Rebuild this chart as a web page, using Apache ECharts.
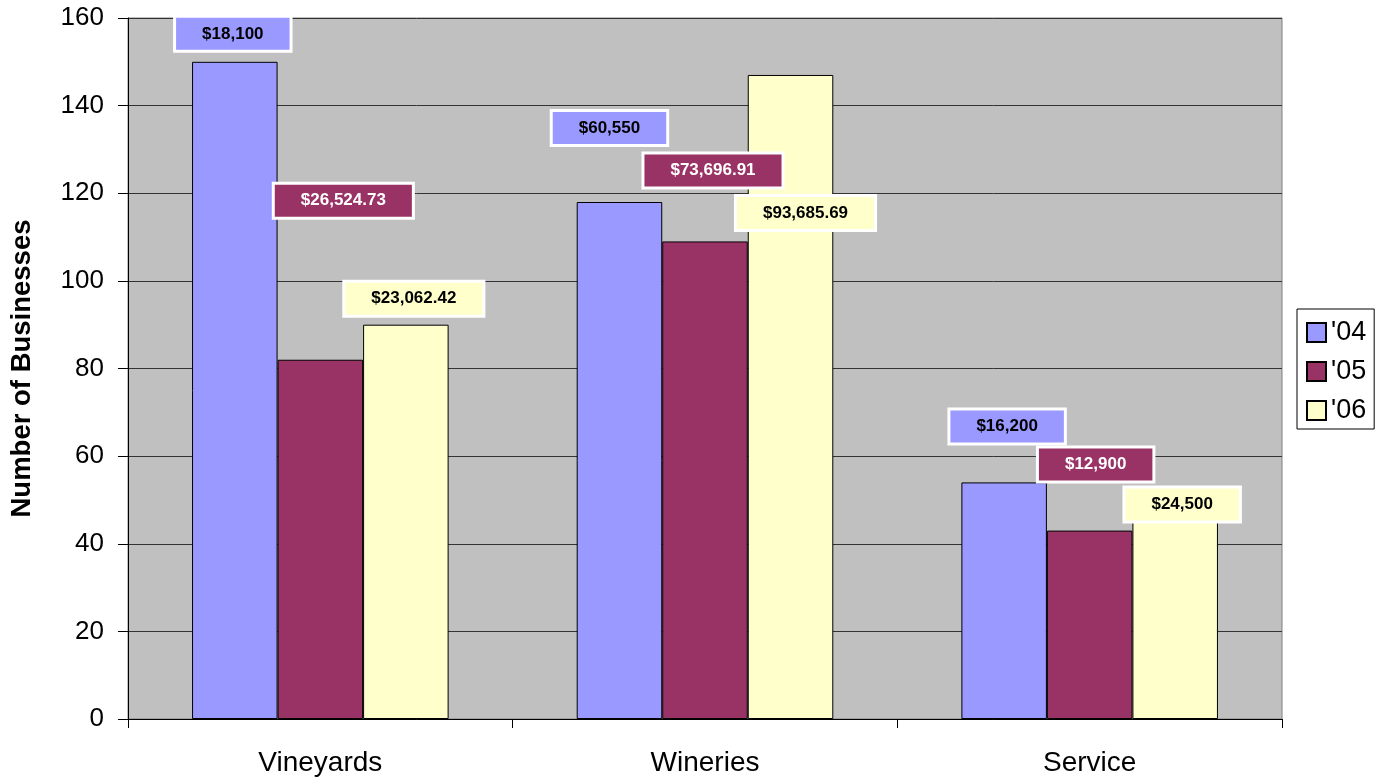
<!DOCTYPE html>
<html>
<head>
<meta charset="utf-8">
<script src="https://cdn.jsdelivr.net/npm/echarts@6/dist/echarts.min.js"></script>
<style>
html,body{margin:0;padding:0;background:#fff;}
#chart{width:1384px;height:778px;}
</style>
</head>
<body>
<div id="chart"></div>
<script>
// ---- data ----
const categories = ['Vineyards', 'Wineries', 'Service'];
const seriesNames = ["'04", "'05", "'06"];
const businesses04 = [150, 118, 54];
const businesses05 = [82, 109, 43];
const businesses06 = [90, 147, 46];
const spending04 = [18100, 60550, 16200];
const spending05 = [26524.73, 73696.91, 12900];
const spending06 = [23062.42, 93685.69, 24500];
const yTicks = [0, 20, 40, 60, 80, 100, 120, 140, 160];

// ---- layout (label placement, px offsets from bar tops) ----
const labelShift04 = [[-2, -12], [-10, -58], [3, -40]];
const labelShift05 = [[23, -143], [8, -55], [6, -50]];
const labelShift06 = [[8, -10], [15, 154], [7, 3]];

const colors = ['#9999FF', '#993366', '#FFFFCC'];
const textColors = ['#000', '#fff', '#000'];
const FONT = 'Liberation Sans, Arial, Helvetica, sans-serif';

function money(v) {
  const isInt = Math.abs(v - Math.round(v)) < 1e-9;
  let s = isInt ? String(Math.round(v)) : v.toFixed(2);
  let [ip, dp] = s.split('.');
  ip = ip.replace(/\B(?=(\d{3})+(?!\d))/g, ',');
  return '$' + ip + (dp ? '.' + dp : '');
}

function makeSeries(idx, values, spend, shifts) {
  return {
    name: seriesNames[idx],
    type: 'bar',
    barGap: '0%',
    barCategoryGap: '33.3%',
    itemStyle: { color: colors[idx], borderColor: '#000', borderWidth: 1 },
    emphasis: { disabled: true },
    data: values.map((v, i) => ({
      value: v,
      label: {
        show: true,
        position: 'top',
        distance: 0,
        offset: shifts[i],
        formatter: money(spend[i])
      }
    })),
    label: {
      show: true,
      fontFamily: FONT,
      fontSize: 17,
      fontWeight: 'bold',
      lineHeight: 18,
      color: textColors[idx],
      backgroundColor: colors[idx],
      borderColor: '#ffffff',
      borderWidth: 3,
      padding: [7, 26]
    },
    z: 2
  };
}

const chart = echarts.init(document.getElementById('chart'), null, { renderer: 'canvas' });
chart.setOption({
  animation: false,
  backgroundColor: '#ffffff',
  grid: {
    left: 128, right: 102, top: 18, bottom: 59,
    outerBoundsMode: 'none',
    containLabel: false,
    show: true,
    backgroundColor: '#C0C0C0',
    borderColor: '#808080',
    borderWidth: 1
  },
  legend: {
    orient: 'vertical',
    left: 1297,
    top: 309,
    data: seriesNames,
    icon: 'rect',
    itemWidth: 19,
    itemHeight: 19,
    itemGap: 12,
    padding: [10, 8, 5, 9],
    borderColor: '#000',
    borderWidth: 1,
    backgroundColor: '#fff',
    textStyle: { fontFamily: FONT, fontSize: 27, lineHeight: 26, color: '#000' },
    selectedMode: false
  },
  xAxis: {
    type: 'category',
    data: categories,
    axisLine: { lineStyle: { color: '#000', width: 1 } },
    axisTick: { show: true, length: 9, lineStyle: { color: '#000' } },
    axisLabel: { fontFamily: FONT, fontSize: 28, color: '#000', margin: 30 },
    splitLine: { show: false }
  },
  yAxis: {
    type: 'value',
    min: yTicks[0],
    max: yTicks[yTicks.length - 1],
    interval: yTicks[1] - yTicks[0],
    name: 'Number of Businesses',
    nameLocation: 'middle',
    nameGap: 92,
    nameRotate: 90,
    nameTextStyle: { fontFamily: FONT, fontSize: 27.5, fontWeight: 'bold', color: '#000' },
    axisLine: { show: true, lineStyle: { color: '#000', width: 1 } },
    axisTick: { show: true, length: 10, lineStyle: { color: '#000' } },
    axisLabel: { fontFamily: FONT, fontSize: 26, color: '#000', margin: 24 },
    splitLine: { show: true, lineStyle: { color: '#333333', width: 1 } }
  },
  series: [
    makeSeries(0, businesses04, spending04, labelShift04),
    makeSeries(1, businesses05, spending05, labelShift05),
    makeSeries(2, businesses06, spending06, labelShift06)
  ]
});
</script>
</body>
</html>
